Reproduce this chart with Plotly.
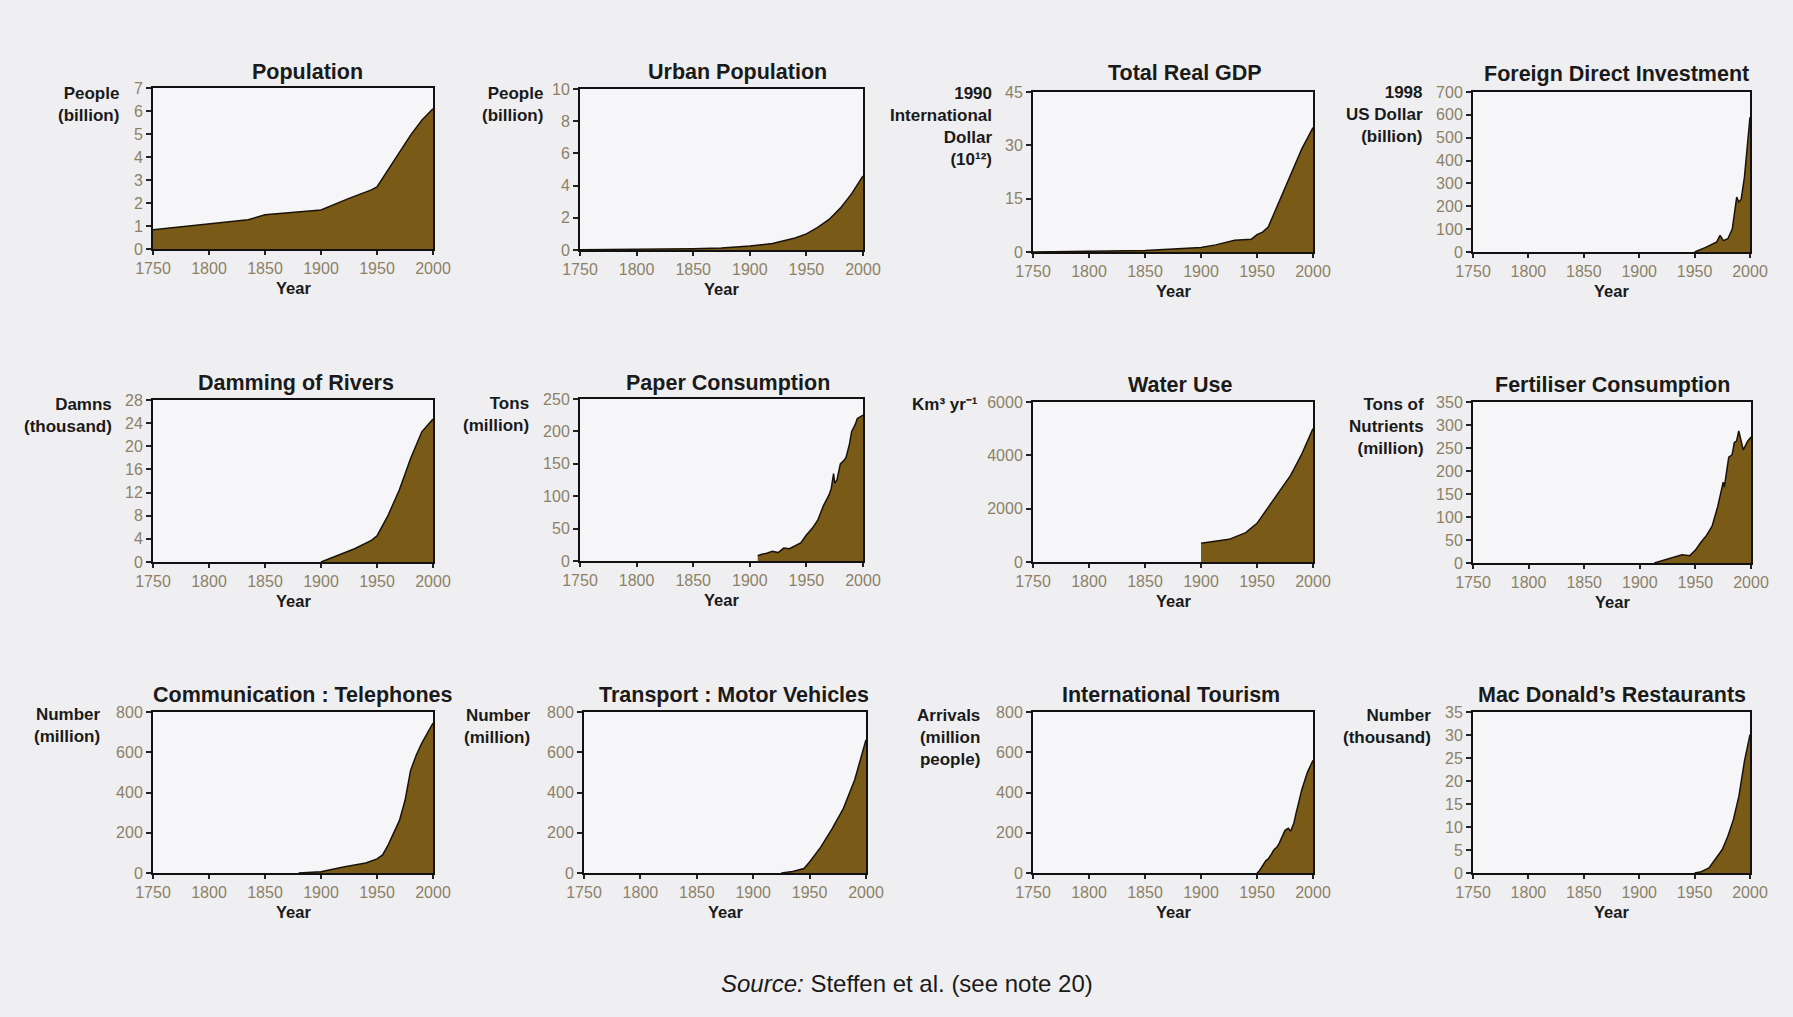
import plotly.graph_objects as go

W, H = 1793, 1017

# ---------------- data ----------------
titles = ["Population", "Urban Population", "Total Real GDP", "Foreign Direct Investment",
          "Damming of Rivers", "Paper Consumption", "Water Use", "Fertiliser Consumption",
          "Communication : Telephones", "Transport : Motor Vehicles", "International Tourism",
          "Mac Donald\u2019s Restaurants"]

ylabels = ["People<br>(billion)", "People<br>(billion)",
           "1990<br>International<br>Dollar<br>(10\u00b9\u00b2)", "1998<br>US Dollar<br>(billion)",
           "Damns<br>(thousand)", "Tons<br>(million)", "Km\u00b3 yr\u207b\u00b9", "Tons of<br>Nutrients<br>(million)",
           "Number<br>(million)", "Number<br>(million)", "Arrivals<br>(million<br>people)", "Number<br>(thousand)"]

year_ticks = [1750, 1800, 1850, 1900, 1950, 2000]

pop_years = [1750, 1800, 1835, 1850, 1900, 1925, 1945, 1950, 1960, 1970, 1980, 1990, 2000]
pop_values = [0.84, 1.1, 1.27, 1.49, 1.7, 2.2, 2.57, 2.7, 3.45, 4.25, 4.95, 5.6, 6.1]

urban_years = [1750, 1800, 1825, 1850, 1875, 1900, 1920, 1940, 1950, 1960, 1970, 1980, 1990, 2000]
urban_values = [0.02, 0.03, 0.05, 0.08, 0.13, 0.25, 0.4, 0.75, 1.0, 1.4, 1.9, 2.6, 3.5, 4.6]

gdp_years = [1750, 1800, 1850, 1900, 1913, 1930, 1940, 1945, 1950, 1955, 1960, 1970, 1980, 1990, 2000]
gdp_values = [0.0, 0.1, 0.4, 1.3, 2.0, 3.3, 3.5, 3.6, 4.9, 5.6, 7.0, 14.5, 22.0, 29.0, 35.0]

fdi_years = [1950, 1960, 1970, 1973, 1976, 1980, 1984, 1987, 1988, 1990, 1992, 1995, 1998, 2000]
fdi_values = [0, 20, 44, 73, 50, 58, 100, 211, 240, 219, 230, 328, 480, 590]

dam_years = [1900, 1910, 1930, 1945, 1950, 1960, 1970, 1980, 1990, 2000]
dam_values = [0.0, 0.8, 2.3, 3.75, 4.5, 8.1, 12.5, 17.9, 22.5, 24.7]

paper_years = [1907, 1910, 1915, 1920, 1925, 1930, 1935, 1940, 1945, 1950, 1955, 1960, 1965,
               1970, 1972, 1974, 1975, 1977, 1980, 1983, 1985, 1988, 1990, 1993, 1995, 2000]
paper_values = [8, 10, 12, 15, 13, 20, 19, 24, 28, 40, 50, 63, 85,
                102, 112, 135, 120, 125, 150, 155, 160, 180, 200, 210, 220, 225]

water_years = [1900, 1925, 1940, 1950, 1960, 1970, 1980, 1990, 2000]
water_values = [700, 850, 1100, 1450, 2050, 2650, 3250, 4050, 5000]

fert_years = [1913, 1920, 1930, 1938, 1945, 1950, 1955, 1960, 1965, 1970, 1975, 1976, 1980,
              1983, 1985, 1987, 1989, 1991, 1993, 1995, 1997, 2000]
fert_values = [0, 5, 13, 18, 16, 28, 45, 60, 80, 122, 176, 165, 230,
               235, 262, 265, 287, 265, 246, 255, 265, 274]

phone_years = [1880, 1900, 1920, 1940, 1950, 1955, 1960, 1970, 1975, 1980, 1985, 1990, 2000]
phone_values = [0, 6, 30, 50, 70, 90, 140, 260, 360, 510, 585, 645, 745]

motor_years = [1925, 1935, 1945, 1950, 1960, 1970, 1980, 1990, 2000]
motor_values = [0, 8, 22, 55, 130, 221, 321, 463, 662]

tour_years = [1950, 1952, 1958, 1960, 1963, 1965, 1968, 1970, 1975, 1978, 1980, 1983, 1985, 1990, 1995, 2000]
tour_values = [0, 10, 62, 70, 95, 115, 130, 150, 212, 222, 207, 250, 300, 414, 500, 560]

mcd_years = [1950, 1955, 1963, 1970, 1975, 1980, 1985, 1990, 1995, 2000]
mcd_values = [0.0, 0.2, 1.1, 3.3, 5.1, 8.0, 11.6, 16.7, 24.3, 30.1]

series_years = [pop_years, urban_years, gdp_years, fdi_years, dam_years, paper_years,
                water_years, fert_years, phone_years, motor_years, tour_years, mcd_years]
series_values = [pop_values, urban_values, gdp_values, fdi_values, dam_values, paper_values,
                 water_values, fert_values, phone_values, motor_values, tour_values, mcd_values]

y_tickvals = [list(range(0, 8, 1)), list(range(0, 11, 2)), [0, 15, 30, 45], list(range(0, 701, 100)),
              list(range(0, 29, 4)), list(range(0, 251, 50)), [0, 2000, 4000, 6000], list(range(0, 351, 50)),
              list(range(0, 801, 200)), list(range(0, 801, 200)), list(range(0, 801, 200)), list(range(0, 36, 5))]

# ---------------- layout geometry (pixels) ----------------
boxes = [(153, 433, 88, 249), (580, 863, 89, 250), (1033, 1313, 92, 252), (1473, 1750, 92, 252),
         (153, 433, 400, 562), (580, 863, 399, 561), (1033, 1313, 402, 562), (1473, 1751, 402, 563),
         (153, 433, 712, 873), (584, 866, 712, 873), (1033, 1313, 712, 873), (1473, 1750, 712, 873)]
title_pos = [(307, 72), (737, 72), (1185, 73), (1616, 74),
             (296, 383), (728, 383), (1180, 385), (1612, 385),
             (302, 695), (734, 695), (1171, 695), (1612, 695)]
ylab_pos = [(121, 82), (545, 82), (994, 82), (1425, 81),
            (114, 393), (531, 392), (980, 393), (1426, 393),
            (102, 703), (532, 704), (982, 704), (1433, 704)]

FILL = "#7a5a17"
TICKCOL = "#8c8168"
FONT = "Liberation Sans, Arial, sans-serif"

fig = go.Figure()
annotations = []
layout = {}

for i in range(12):
    n = i + 1
    x0, x1, ytop, ybot = boxes[i]
    xs = "" if n == 1 else str(n)
    fig.add_trace(go.Scatter(
        x=series_years[i], y=series_values[i], mode="lines",
        fill="tozeroy", fillcolor=FILL,
        line=dict(color="#1a1208", width=1.5),
        xaxis="x" + xs, yaxis="y" + xs, showlegend=False, hoverinfo="x+y"))
    ymax = y_tickvals[i][-1]
    layout["xaxis" + xs] = dict(
        domain=[x0 / W, x1 / W], anchor="y" + xs, range=[1750, 2000],
        tickvals=year_ticks, ticks="outside", ticklen=4, tickwidth=1.5, tickcolor="#222",
        showline=True, linecolor="#111", linewidth=2, mirror=True,
        showgrid=False, zeroline=False, automargin=False,
        tickfont=dict(family=FONT, size=16, color=TICKCOL), fixedrange=True)
    layout["yaxis" + xs] = dict(
        domain=[1 - ybot / H, 1 - ytop / H], anchor="x" + xs, range=[0, ymax],
        tickvals=y_tickvals[i], ticks="outside", ticklen=5, tickwidth=1.5, tickcolor="#222",
        showline=True, linecolor="#111", linewidth=2, mirror=True,
        showgrid=False, zeroline=False, automargin=False,
        tickfont=dict(family=FONT, size=16, color=TICKCOL), fixedrange=True)
    # title
    tx, ty = title_pos[i]
    annotations.append(dict(text="<b>" + titles[i] + "</b>", x=tx / W, y=1 - ty / H,
                            xref="paper", yref="paper", xanchor="center", yanchor="middle",
                            showarrow=False, font=dict(family=FONT, size=21.5, color="#1a1a1a")))
    # y label
    lx, ly = ylab_pos[i]
    annotations.append(dict(text="<b>" + ylabels[i].replace("<br>", "</b><br><b>") + "</b>",
                            x=lx / W, y=1 - ly / H, xref="paper", yref="paper",
                            xanchor="right", yanchor="top", align="right", showarrow=False,
                            font=dict(family=FONT, size=17, color="#1a1a1a")))
    # x label
    annotations.append(dict(text="<b>Year</b>", x=(x0 + x1) / 2 / W, y=1 - (ybot + 39) / H,
                            xref="paper", yref="paper", xanchor="center", yanchor="middle",
                            showarrow=False, font=dict(family=FONT, size=16.5, color="#1a1a1a")))

annotations.append(dict(text="<i>Source:</i> Steffen et al. (see note 20)", x=907 / W, y=1 - 983 / H,
                        xref="paper", yref="paper", xanchor="center", yanchor="middle",
                        showarrow=False, font=dict(family=FONT, size=24, color="#1a1a1a")))

fig.update_layout(
    width=W, height=H, autosize=False, margin=dict(l=0, r=0, t=0, b=0, pad=0, autoexpand=False),
    paper_bgcolor="#efeff1", plot_bgcolor="#f6f6f8",
    annotations=annotations, **layout)

fig.write_html("out.html", config={"displayModeBar": False, "responsive": False},
               post_script="document.body.style.margin='0';document.body.style.overflow='hidden';")
